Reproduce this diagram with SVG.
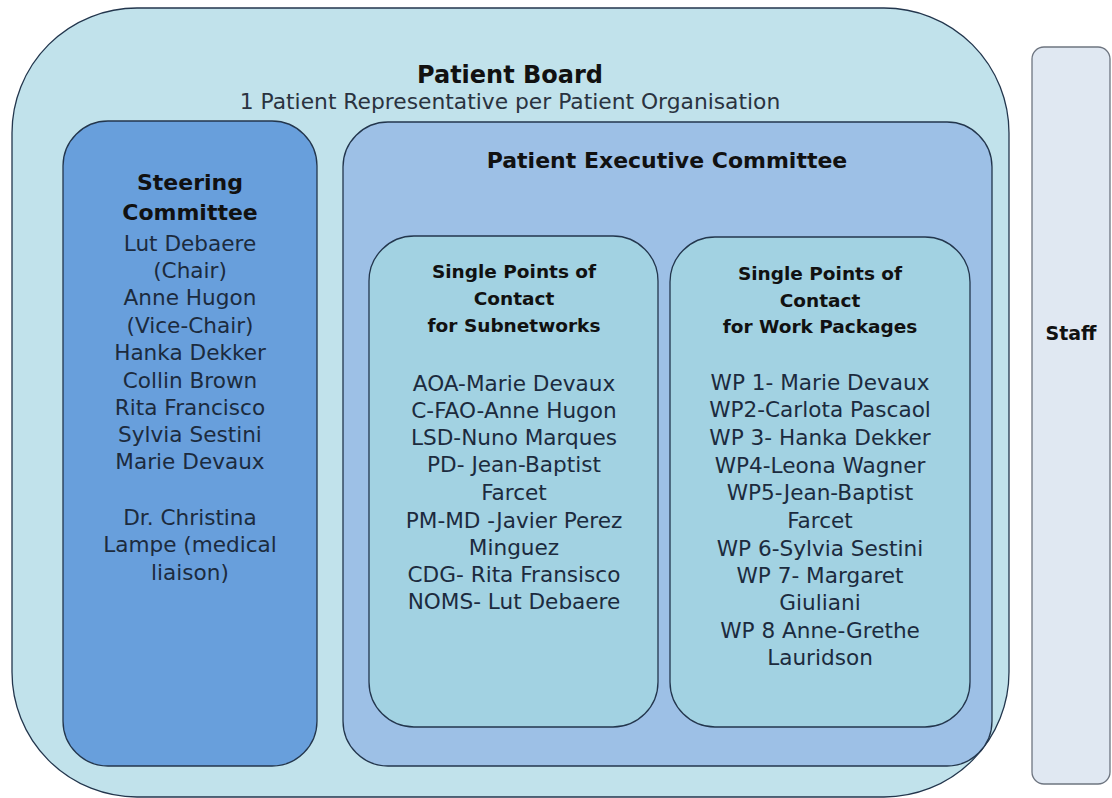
<svg xmlns="http://www.w3.org/2000/svg" width="1112" height="798" viewBox="0 0 1112 798">
<style>
.box{stroke:#23364d;stroke-width:1.3}
.t{font-family:"DejaVu Sans","Liberation Sans",sans-serif;text-anchor:middle}
.h{font-weight:bold;fill:#111111}
.b{fill:#1c2b3e;font-size:21.6px}
</style>
<rect width="1112" height="798" fill="#ffffff"/>
<g id="patient-board">
<rect class="box" x="12" y="8" width="997" height="789" rx="125" ry="125" fill="#c1e2eb"/>
<text class="t h" x="510" y="83" font-size="24">Patient Board</text>
<text class="t" x="510" y="109" font-size="21.8" fill="#2a3340">1 Patient Representative per Patient Organisation</text>
</g>
<g id="steering-committee">
<rect class="box" x="63" y="121" width="254" height="645" rx="45" ry="45" fill="#689fdc"/>
<text class="t h" x="190" y="190" font-size="22">Steering</text>
<text class="t h" x="190" y="220" font-size="22">Committee</text>
<text class="t b" x="190" y="251">Lut Debaere</text>
<text class="t b" x="190" y="278">(Chair)</text>
<text class="t b" x="190" y="305">Anne Hugon</text>
<text class="t b" x="190" y="333">(Vice-Chair)</text>
<text class="t b" x="190" y="360">Hanka Dekker</text>
<text class="t b" x="190" y="388">Collin Brown</text>
<text class="t b" x="190" y="415">Rita Francisco</text>
<text class="t b" x="190" y="442">Sylvia Sestini</text>
<text class="t b" x="190" y="469">Marie Devaux</text>
<text class="t b" x="190" y="525">Dr. Christina</text>
<text class="t b" x="190" y="552">Lampe (medical</text>
<text class="t b" x="190" y="580">liaison)</text>
</g>
<g id="patient-executive-committee">
<rect class="box" x="343" y="122" width="649" height="644" rx="45" ry="45" fill="#9dc0e6"/>
<text class="t h" x="667" y="168" font-size="22">Patient Executive Committee</text>
</g>
<g id="spoc-subnetworks">
<rect class="box" x="369" y="236" width="289" height="491" rx="45" ry="45" fill="#a2d2e2"/>
<text class="t h" x="514" y="278" font-size="18.5">Single Points of</text>
<text class="t h" x="514" y="305" font-size="18.5">Contact</text>
<text class="t h" x="514" y="332" font-size="18.5">for Subnetworks</text>
<text class="t b" x="514" y="391">AOA-Marie Devaux</text>
<text class="t b" x="514" y="418">C-FAO-Anne Hugon</text>
<text class="t b" x="514" y="445">LSD-Nuno Marques</text>
<text class="t b" x="514" y="472">PD- Jean-Baptist</text>
<text class="t b" x="514" y="500">Farcet</text>
<text class="t b" x="514" y="528">PM-MD -Javier Perez</text>
<text class="t b" x="514" y="555">Minguez</text>
<text class="t b" x="514" y="582">CDG- Rita Fransisco</text>
<text class="t b" x="514" y="609">NOMS- Lut Debaere</text>
</g>
<g id="spoc-work-packages">
<rect class="box" x="670" y="237" width="300" height="490" rx="45" ry="45" fill="#a2d2e2"/>
<text class="t h" x="820" y="280" font-size="18.5">Single Points of</text>
<text class="t h" x="820" y="307" font-size="18.5">Contact</text>
<text class="t h" x="820" y="333" font-size="18.5">for Work Packages</text>
<text class="t b" x="820" y="390">WP 1- Marie Devaux</text>
<text class="t b" x="820" y="417">WP2-Carlota Pascaol</text>
<text class="t b" x="820" y="445">WP 3- Hanka Dekker</text>
<text class="t b" x="820" y="473">WP4-Leona Wagner</text>
<text class="t b" x="820" y="500">WP5-Jean-Baptist</text>
<text class="t b" x="820" y="528">Farcet</text>
<text class="t b" x="820" y="556">WP 6-Sylvia Sestini</text>
<text class="t b" x="820" y="583">WP 7- Margaret</text>
<text class="t b" x="820" y="610">Giuliani</text>
<text class="t b" x="820" y="638">WP 8 Anne-Grethe</text>
<text class="t b" x="820" y="665">Lauridson</text>
</g>
<g id="staff">
<rect x="1032" y="47" width="78" height="737" rx="12" ry="12" fill="#e0e8f2" stroke="#6e7580" stroke-width="1.3"/>
<text class="t h" x="1071" y="340" font-size="19">Staff</text>
</g>
<g id="connectors"/>
</svg>
